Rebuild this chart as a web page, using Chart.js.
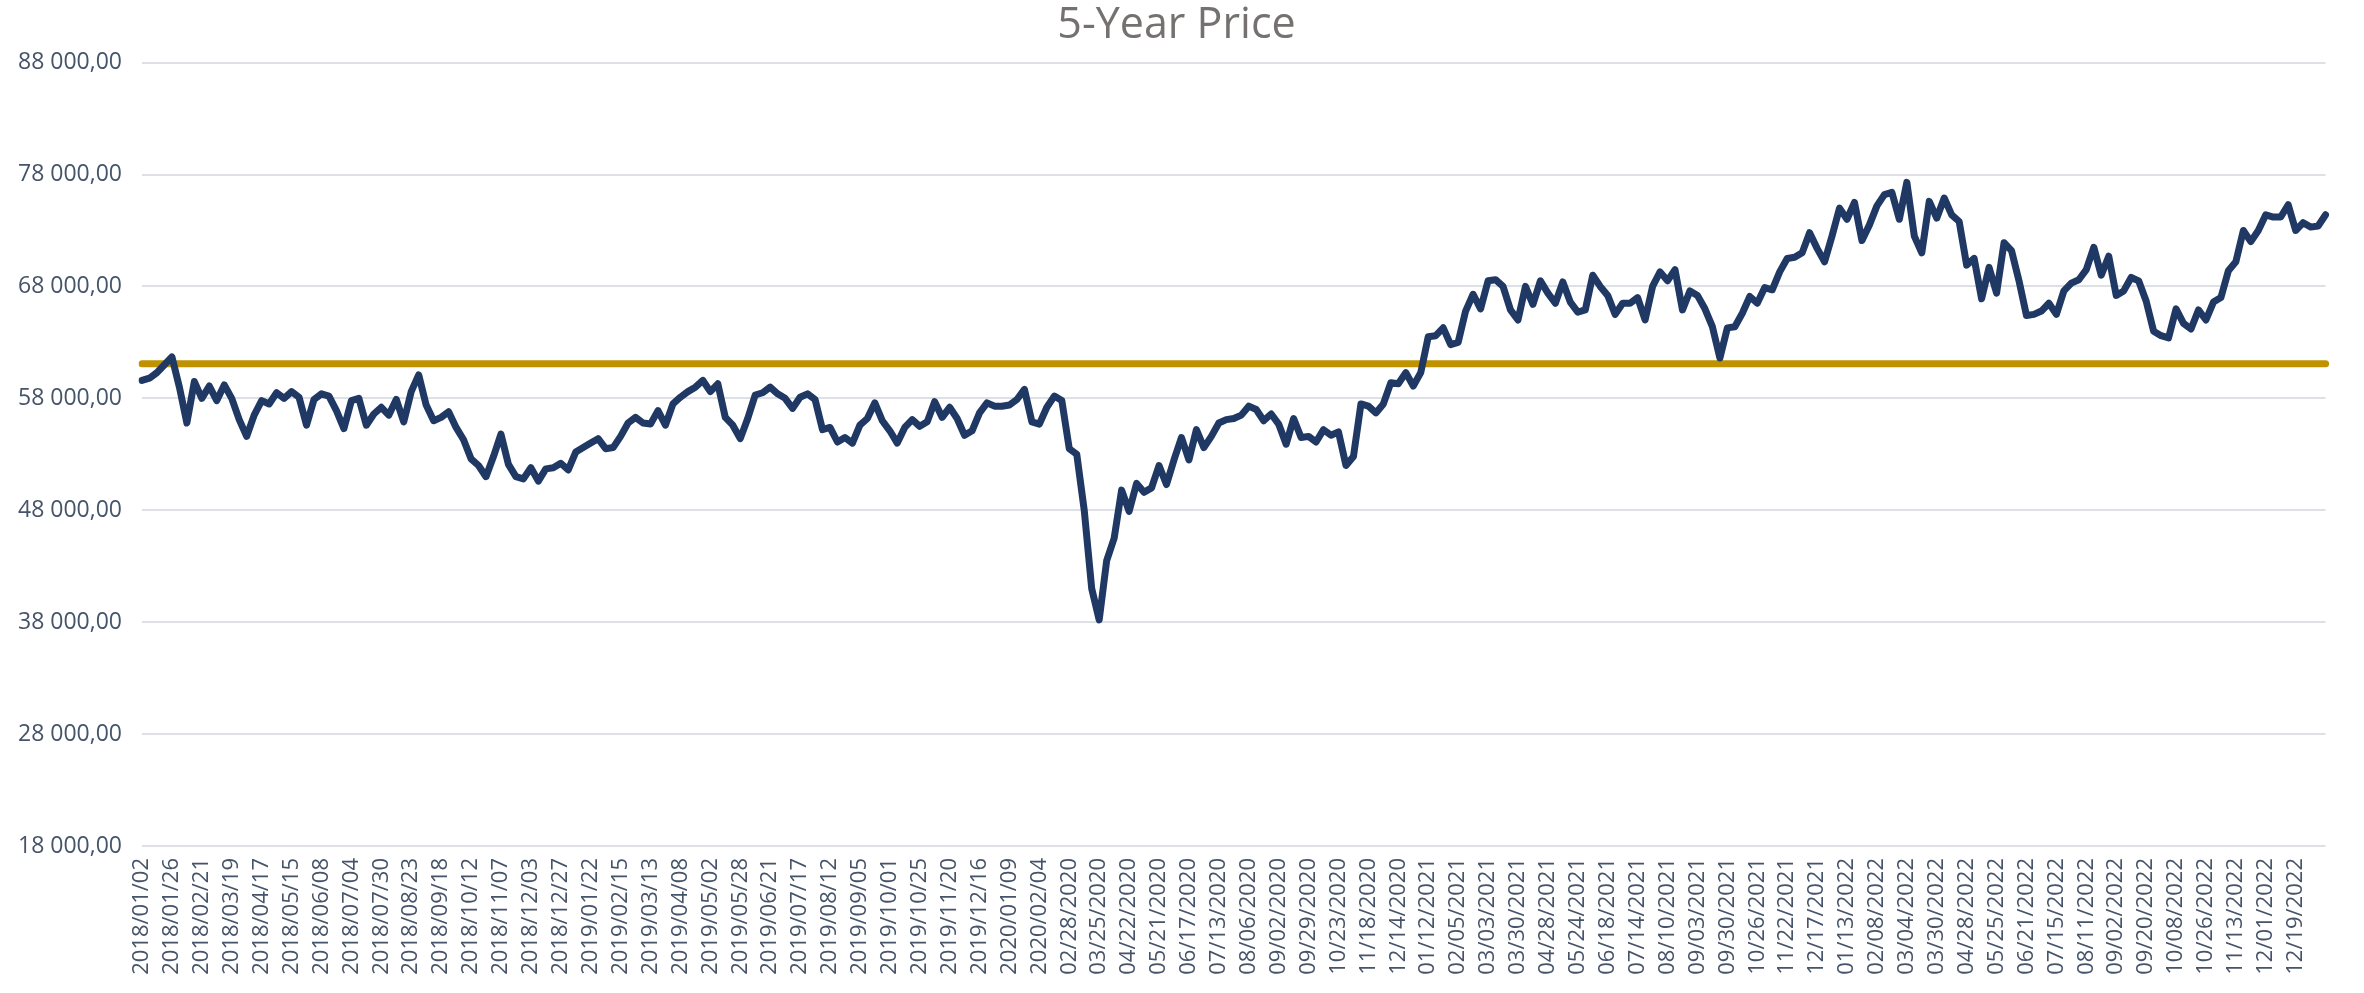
<!DOCTYPE html>
<html>
<head>
<meta charset="utf-8">
<title>5-Year Price</title>
<script src="https://cdn.jsdelivr.net/npm/chart.js@4/dist/chart.umd.min.js"></script>
<style>
    html, body { margin: 0; padding: 0; background: #ffffff; }
    #wrap { width: 2364px; height: 993px; position: relative; }
</style>
</head>
<body>
<div id="wrap"><canvas id="chart"></canvas></div>
<script>
// tick labels shown on the x axis, one every 4 data points
const tickLabels = [
    '2018/01/02', '2018/01/26', '2018/02/21', '2018/03/19', '2018/04/17', '2018/05/15', '2018/06/08', '2018/07/04',
    '2018/07/30', '2018/08/23', '2018/09/18', '2018/10/12', '2018/11/07', '2018/12/03', '2018/12/27',
    '2019/01/22', '2019/02/15', '2019/03/13', '2019/04/08', '2019/05/02', '2019/05/28', '2019/06/21', '2019/07/17',
    '2019/08/12', '2019/09/05', '2019/10/01', '2019/10/25', '2019/11/20', '2019/12/16',
    '2020/01/09', '2020/02/04', '02/28/2020', '03/25/2020', '04/22/2020', '05/21/2020', '06/17/2020', '07/13/2020',
    '08/06/2020', '09/02/2020', '09/29/2020', '10/23/2020', '11/18/2020', '12/14/2020',
    '01/12/2021', '02/05/2021', '03/03/2021', '03/30/2021', '04/28/2021', '05/24/2021', '06/18/2021', '07/14/2021',
    '08/10/2021', '09/03/2021', '09/30/2021', '10/26/2021', '11/22/2021', '12/17/2021',
    '01/13/2022', '02/08/2022', '03/04/2022', '03/30/2022', '04/28/2022', '05/25/2022', '06/21/2022', '07/15/2022',
    '08/11/2022', '09/02/2022', '09/20/2022', '10/08/2022', '10/26/2022', '11/13/2022', '12/01/2022', '12/19/2022'
];
const pointsPerTick = 4;

// price readings, grouped roughly by year
const prices2018 = [
    59600, 59800, 60300, 61000, 61700, 59000, 55800, 59500, 58000, 59100,
    57800, 59200, 58000, 56100, 54600, 56500, 57800, 57500, 58500, 58000,
    58600, 58100, 55600, 57900, 58400, 58200, 56900, 55300, 57800, 58000,
    55600, 56600, 57200, 56500, 57900, 55900, 58600, 60100, 57400, 56000,
    56300, 56800, 55400, 54300, 52600, 52000, 51000, 52800, 54800, 52100,
    51000, 50800, 51800, 50600, 51700, 51800, 52200, 51600, 53200, 53600
];
const prices2019 = [
    54000, 54400, 53500, 53600, 54600, 55800, 56300, 55800, 55700, 56900,
    55600, 57500, 58100, 58600, 59000, 59600, 58600, 59300, 56300, 55600,
    54400, 56200, 58300, 58500, 59000, 58400, 58000, 57100, 58100, 58400,
    57900, 55200, 55400, 54100, 54500, 54000, 55600, 56200, 57600, 56000,
    55100, 54000, 55400, 56100, 55500, 55900, 57700, 56300, 57200, 56200,
    54700, 55100, 56700, 57600, 57300, 57300
];
const prices2020 = [
    57400, 57900, 58800, 55900, 55700, 57200, 58200, 57800, 53500, 53000,
    48000, 41000, 38200, 43500, 45500, 49800, 47900, 50400, 49600, 50000,
    52000, 50300, 52500, 54500, 52500, 55200, 53600, 54600, 55800, 56100,
    56200, 56500, 57300, 57000, 56000, 56600, 55700, 53900, 56200, 54500,
    54600, 54100, 55200, 54700, 55000, 52000, 52800, 57500, 57300, 56700,
    57500, 59400, 59300, 60300, 59100, 60300
];
const prices2021 = [
    63500, 63600, 64300, 62800, 63000, 65800, 67300, 66000, 68500, 68600,
    68000, 65900, 65000, 68000, 66400, 68500, 67400, 66500, 68400, 66600,
    65700, 65900, 69000, 68000, 67200, 65500, 66500, 66500, 67000, 65000,
    68000, 69300, 68500, 69500, 65900, 67600, 67200, 66000, 64400, 61600,
    64300, 64400, 65600, 67100, 66500, 67900, 67700, 69300, 70500, 70600,
    71000, 72800, 71400, 70200, 72500, 75000
];
const prices2022 = [
    74000, 75500, 72100, 73500, 75200, 76200, 76400, 74000, 77300, 72500,
    71000, 75600, 74100, 75900, 74400, 73800, 69900, 70500, 66900, 69700,
    67400, 71900, 71200, 68500, 65400, 65500, 65800, 66500, 65500, 67600,
    68300, 68600, 69500, 71500, 69000, 70700, 67200, 67600, 68800, 68500,
    66700, 64000, 63600, 63400, 66000, 64700, 64200, 65900, 65000, 66600,
    67000, 69400, 70200, 73000, 72000, 73000, 74400, 74200, 74200, 75300,
    73000, 73700, 73300, 73400, 74400
];

// horizontal reference level (gold line)
const referenceLevel = 61100;

const yMin = 18000;
const yMax = 88000;
const yStep = 10000;

const prices = [...prices2018, ...prices2019, ...prices2020, ...prices2021, ...prices2022];
const labels = prices.map((p, i) => (i % pointsPerTick === 0 ? (tickLabels[i / pointsPerTick] || '') : ''));
const referenceData = prices.map((p, i) => (i === 0 || i === prices.length - 1 ? referenceLevel : null));

const fmt = (v) => String(v).replace(/\B(?=(\d{3})+(?!\d))/g, ' ') + ',00';

const fontFamily = "'Open Sans', 'DejaVu Sans', sans-serif";
const tickColor = '#46546a';

const ctx = document.getElementById('chart').getContext('2d');
new Chart(ctx, {
    type: 'line',
    data: {
        labels: labels,
        datasets: [{
            label: 'Price',
            data: prices,
            borderColor: '#203864',
            borderWidth: 7,
            pointRadius: 0,
            tension: 0,
            borderJoinStyle: 'round',
            borderCapStyle: 'round',
            fill: false
        }, {
            label: 'Level',
            data: referenceData,
            spanGaps: true,
            borderColor: '#c09200',
            borderWidth: 7,
            pointRadius: 0,
            borderCapStyle: 'round',
            fill: false
        }]
    },
    options: {
        responsive: true,
        maintainAspectRatio: false,
        animation: false,
        layout: { padding: { left: 10, right: 21, top: 0, bottom: 0 } },
        plugins: {
            legend: { display: false },
            tooltip: { enabled: false },
            title: {
                display: true,
                text: '5-Year Price',
                color: '#767171',
                font: { family: fontFamily, size: 43, weight: 'normal' },
                padding: { top: 0, bottom: 11 }
            }
        },
        scales: {
            x: {
                grid: { display: false, drawTicks: false },
                border: { display: false },
                ticks: {
                    autoSkip: false,
                    minRotation: 90,
                    maxRotation: 90,
                    padding: 12,
                    color: tickColor,
                    font: { family: fontFamily, size: 22 }
                },
                afterFit: (scale) => { scale.height = 147; }
            },
            y: {
                min: yMin,
                max: yMax,
                grid: { color: '#dde1e6', lineWidth: 2, drawTicks: false },
                border: { display: false },
                ticks: {
                    stepSize: yStep,
                    padding: 20,
                    color: tickColor,
                    font: { family: fontFamily, size: 23 },
                    callback: (v) => fmt(v)
                },
                afterFit: (scale) => { scale.width = 132; }
            }
        }
    }
});
</script>
</body>
</html>
